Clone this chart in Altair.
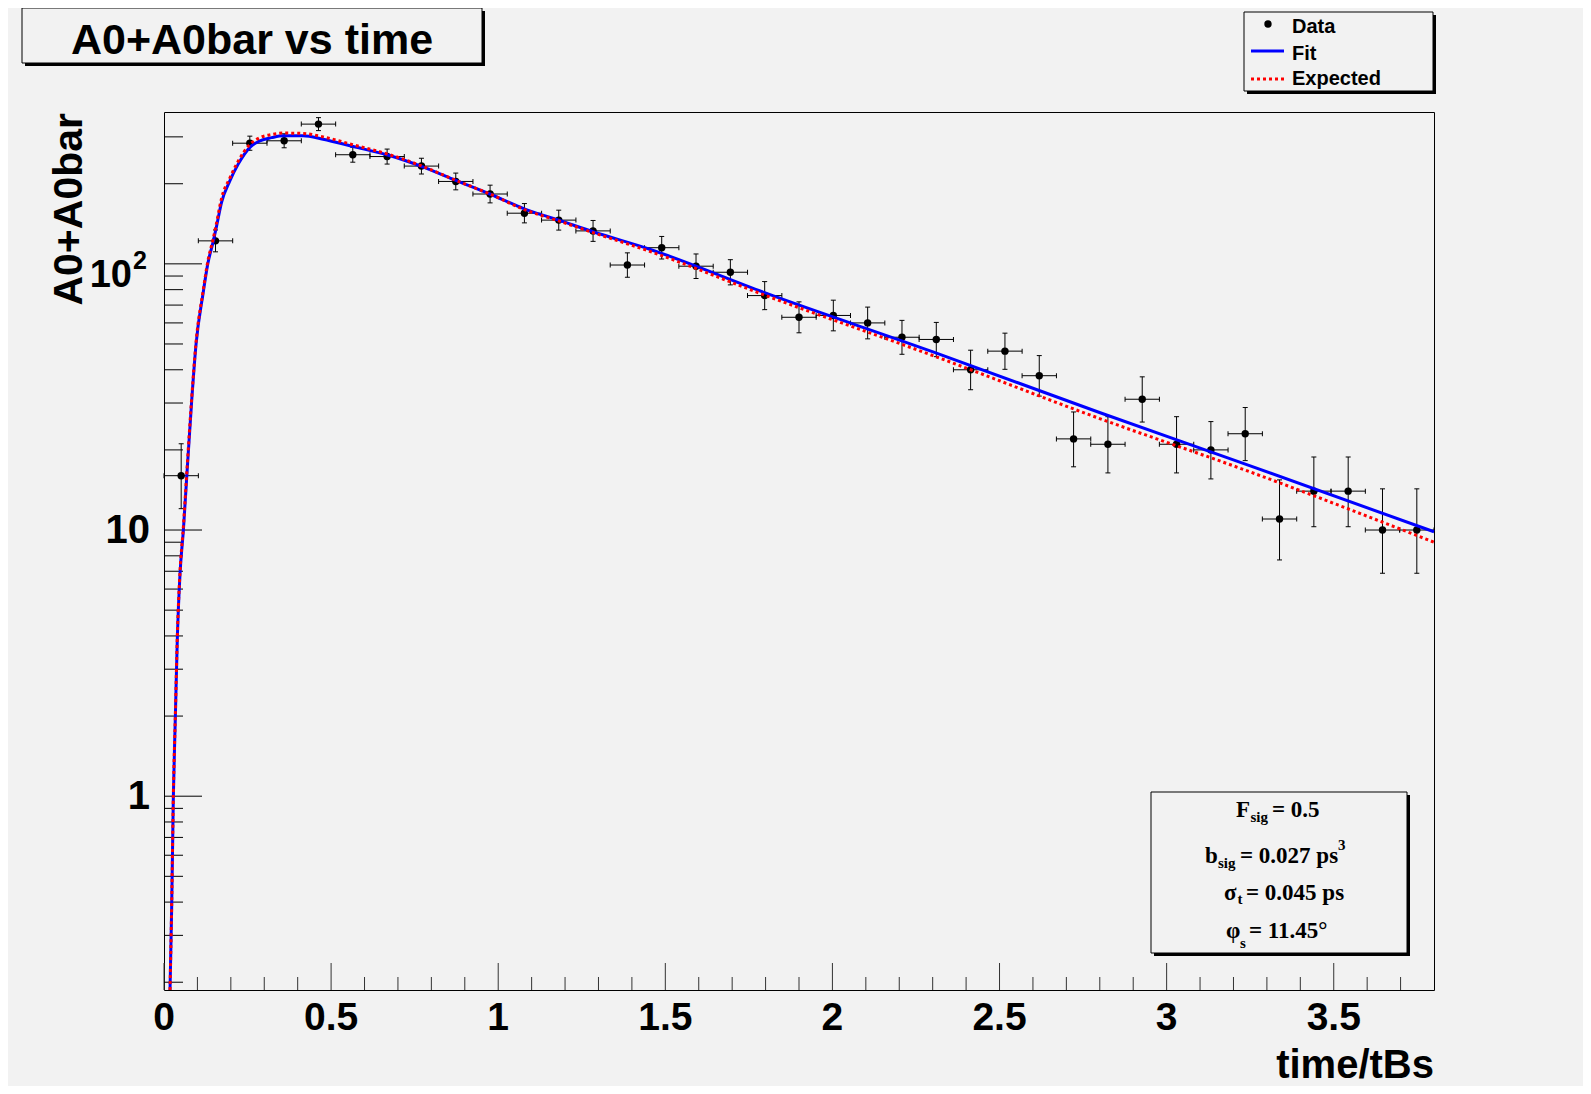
import altair as alt
import pandas as pd

# ---------------- data ----------------
bin_centers = [0.0514, 0.1541, 0.2568, 0.3595, 0.4622, 0.5649, 0.6676, 0.7703,
               0.8730, 0.9757, 1.0784, 1.1811, 1.2838, 1.3865, 1.4892, 1.5919,
               1.6946, 1.7973, 1.9000, 2.0027, 2.1054, 2.2081, 2.3108, 2.4135,
               2.5162, 2.6189, 2.7216, 2.8243, 2.9270, 3.0297, 3.1324, 3.2351,
               3.3378, 3.4405, 3.5432, 3.6459, 3.7486]
counts = [16, 122, 284, 290, 335, 257, 253, 233, 204, 183, 155, 146, 133, 99,
          115, 98, 93, 76, 63, 64, 60, 53, 52, 40, 47, 38, 22, 21, 31, 21, 20,
          23, 11, 14, 14, 10, 10]
err_low = [3.97, 11.03, 16.84, 17.02, 18.30, 16.02, 15.90, 15.26, 14.28, 13.52,
           12.44, 12.07, 11.52, 9.94, 10.71, 9.89, 9.63, 8.70, 7.92, 7.98, 7.73,
           7.26, 7.19, 6.34, 6.84, 6.14, 4.72, 4.61, 5.55, 4.61, 4.44, 4.77,
           3.28, 3.71, 3.71, 3.12, 3.12]
err_high = [5.09, 12.08, 17.88, 18.05, 19.32, 17.05, 16.93, 16.29, 15.31, 14.55,
            13.48, 13.11, 12.56, 10.99, 11.76, 10.94, 10.68, 9.76, 8.98, 9.04,
            8.79, 8.33, 8.26, 7.38, 7.91, 7.22, 5.77, 5.66, 6.63, 5.66, 5.55,
            5.87, 4.43, 4.81, 4.81, 4.28, 4.28]
half_bin = 0.0514

curve_t = [0.018, 0.023, 0.028, 0.034, 0.040, 0.048, 0.058, 0.068, 0.083, 0.096,
           0.117, 0.131, 0.147, 0.157, 0.172, 0.197, 0.222, 0.257, 0.287, 0.322,
           0.357, 0.416, 0.476, 0.566, 0.667, 0.772, 0.873, 0.975, 1.078, 1.181,
           1.284, 1.453, 1.801, 2.299, 2.797, 3.246, 3.8]
fit_vals = [0.187, 0.384, 1.0, 1.99, 3.97, 6.87, 10.0, 15.8, 30.8, 50.0, 77.6,
            100.0, 121.0, 138.0, 170.0, 205.0, 237.0, 274.0, 290.0, 298.0, 303.0,
            303.0, 294.0, 276.0, 257.0, 232.0, 206.0, 183.0, 161.0, 146.0, 132.0,
            113.5, 77.6, 46.8, 27.7, 17.5, 9.85]
exp_vals = [0.187, 0.39, 1.02, 2.02, 4.05, 7.0, 10.3, 16.3, 31.5, 51.0, 79.0,
            102.0, 124.0, 142.0, 176.0, 210.0, 243.0, 281.0, 298.0, 306.0, 310.0,
            309.0, 300.0, 280.0, 259.0, 233.0, 206.0, 183.0, 160.0, 145.0, 131.0,
            111.5, 76.0, 45.3, 26.3, 16.6, 9.0]

x_major = [0, 0.5, 1, 1.5, 2, 2.5, 3, 3.5]
x_labels = ["0", "0.5", "1", "1.5", "2", "2.5", "3", "3.5"]
x_minor = [0.1, 0.2, 0.3, 0.4, 0.6, 0.7, 0.8, 0.9, 1.1, 1.2, 1.3, 1.4, 1.6, 1.7,
           1.8, 1.9, 2.1, 2.2, 2.3, 2.4, 2.6, 2.7, 2.8, 2.9, 3.1, 3.2, 3.3, 3.4,
           3.6, 3.7]
y_major = [1, 10, 100]
y_plain_ticks = [1, 10]
y_plain_labels = ["1", "10"]
y_minor = [0.2, 0.3, 0.4, 0.5, 0.6, 0.7, 0.8, 0.9, 2, 3, 4, 5, 6, 7, 8, 9,
           20, 30, 40, 50, 60, 70, 80, 90, 200, 300]

# ---------------- layout ----------------
W, H = 1270, 878
BG = "#f2f2f2"
SANS = "Liberation Sans"
SERIF = "Liberation Serif"

xs = alt.Scale(domain=[0, 3.8], nice=False, zero=False)
ys = alt.Scale(type="log", domain=[0.187, 372], nice=False)

df = pd.DataFrame({"t": bin_centers, "n": counts, "el": err_low, "eh": err_high})
df["lo"] = df["n"] - df["el"]
df["hi"] = df["n"] + df["eh"]
df["tl"] = df["t"] - half_bin
df["th"] = df["t"] + half_bin

one = pd.DataFrame({"k": [0]})

X = lambda f: alt.X(f, scale=xs, axis=None)
Y = lambda f: alt.Y(f, scale=ys, axis=None)

# error bars
vbar = alt.Chart(df).mark_rule(color="black", strokeWidth=1).encode(
    x=X("t:Q"), y=Y("lo:Q"), y2="hi:Q")
hbar = alt.Chart(df).mark_rule(color="black", strokeWidth=1).encode(
    x=X("tl:Q"), x2="th:Q", y=Y("n:Q"))

def cap(xf, yf, orient):
    return alt.Chart(df).mark_tick(color="black", size=5, thickness=1,
                                   orient=orient, opacity=1).encode(
        x=X(xf), y=Y(yf))

pts = alt.Chart(df).mark_circle(size=55, color="black", opacity=1).encode(
    x=X("t:Q"), y=Y("n:Q"))

fit_df = pd.DataFrame({"t": curve_t, "v": fit_vals})
exp_df = pd.DataFrame({"t": curve_t, "v": exp_vals})
fit_line = alt.Chart(fit_df).mark_line(color="#0000ff", strokeWidth=3,
                                       interpolate="monotone").encode(
    x=X("t:Q"), y=Y("v:Q"))
exp_line = alt.Chart(exp_df).mark_line(color="#ff0000", strokeWidth=3,
                                       strokeDash=[3, 3],
                                       interpolate="monotone").encode(
    x=X("t:Q"), y=Y("v:Q"))

# inward ticks
def yticks(vals, length):
    return alt.Chart(pd.DataFrame({"v": vals})).mark_rule(
        color="black", strokeWidth=1).encode(
        y=Y("v:Q"), x=alt.value(0), x2=alt.value(length))

def xticks(vals, length):
    return alt.Chart(pd.DataFrame({"v": vals})).mark_rule(
        color="#333333", strokeWidth=1).encode(
        x=X("v:Q"), y=alt.value(H), y2=alt.value(H - length))

# helpers for annotations
def box(x1, y1, x2, y2, shadow=3):
    sh = alt.Chart(one).mark_rect(color="black").encode(
        x=alt.value(x1 + shadow), x2=alt.value(x2 + shadow),
        y=alt.value(y1 + shadow), y2=alt.value(y2 + shadow))
    bx = alt.Chart(one).mark_rect(fill=BG, stroke="black", strokeWidth=1).encode(
        x=alt.value(x1), x2=alt.value(x2), y=alt.value(y1), y2=alt.value(y2))
    return [sh, bx]

def txt(s, x, y, size, font=SANS, align="left", weight="bold", angle=0):
    return alt.Chart(one).mark_text(font=font, fontSize=size, fontWeight=weight,
                                    align=align, baseline="alphabetic",
                                    angle=angle, color="black").encode(
        x=alt.value(x), y=alt.value(y), text=alt.value(s))

layers = [xticks(x_minor, 13), xticks(x_major, 27),
          yticks(y_minor, 19), yticks(y_major, 38),
          vbar, hbar,
          cap("t:Q", "lo:Q", "horizontal"), cap("t:Q", "hi:Q", "horizontal"),
          cap("tl:Q", "n:Q", "vertical"), cap("th:Q", "n:Q", "vertical"),
          pts, fit_line, exp_line]

# x tick labels
layers.append(alt.Chart(pd.DataFrame({"v": x_major, "lab": x_labels})).mark_text(
    font=SANS, fontSize=39, fontWeight="bold", align="center",
    baseline="alphabetic", color="black").encode(
    x=X("v:Q"), y=alt.value(H + 40), text="lab:N"))
# y tick labels
layers.append(alt.Chart(pd.DataFrame({"v": y_plain_ticks, "lab": y_plain_labels})).mark_text(
    font=SANS, fontSize=40, fontWeight="bold", align="right",
    baseline="alphabetic", dy=13, color="black").encode(
    y=Y("v:Q"), x=alt.value(-14), text="lab:N"))
# 10^2 label
layers.append(alt.Chart(one).mark_text(font=SANS, fontSize=38, fontWeight="bold",
                                       align="right", baseline="alphabetic",
                                       dy=23, color="black").encode(
    x=alt.value(-32), y=alt.datum(100, scale=ys), text=alt.value("10")))
layers.append(alt.Chart(one).mark_text(font=SANS, fontSize=25, fontWeight="bold",
                                       align="left", baseline="alphabetic",
                                       dy=5, color="black").encode(
    x=alt.value(-31), y=alt.datum(100, scale=ys), text=alt.value("2")))

# axis titles
layers.append(txt("time/tBs", W, H + 88, 40, align="right"))
layers.append(txt("A0+A0bar", -82, 1, 41, align="right", angle=270))

# title box
layers += box(-142, -104, 318, -49, shadow=3)
layers.append(txt("A0+A0bar vs time", 88, -58, 43, align="center"))

# legend
layers += box(1080, -100, 1269, -21, shadow=3)
layers.append(alt.Chart(one).mark_circle(size=55, color="black", opacity=1).encode(
    x=alt.value(1104), y=alt.value(-88)))
layers.append(alt.Chart(one).mark_rule(color="#0000ff", strokeWidth=3).encode(
    x=alt.value(1087), x2=alt.value(1120), y=alt.value(-61)))
layers.append(alt.Chart(one).mark_rule(color="#ff0000", strokeWidth=3,
                                       strokeDash=[3, 3]).encode(
    x=alt.value(1087), x2=alt.value(1120), y=alt.value(-33)))
layers.append(txt("Data", 1128, -79, 20))
layers.append(txt("Fit", 1128, -52, 20))
layers.append(txt("Expected", 1128, -27, 20))

# stats box
layers += box(987, 680, 1243, 841, shadow=3)
layers += [
    txt("F", 1072, 705, 23, font=SERIF),
    txt("sig", 1086.5, 710, 15, font=SERIF),
    txt("= 0.5", 1108, 705, 23, font=SERIF),
    txt("b", 1041, 751, 23, font=SERIF),
    txt("sig", 1054, 756, 15, font=SERIF),
    txt("= 0.027 ps", 1076, 751, 23, font=SERIF),
    txt("3", 1174, 738, 15, font=SERIF),
    txt("\u03c3", 1060, 788, 23, font=SERIF),
    txt("t", 1073.5, 792, 15, font=SERIF),
    txt("= 0.045 ps", 1082, 788, 23, font=SERIF),
    txt("\u03c6", 1062, 826, 23, font=SERIF),
    txt("s", 1076, 836, 15, font=SERIF),
    txt("= 11.45\u00b0", 1085, 826, 23, font=SERIF),
]

chart = alt.layer(*layers).properties(
    width=W, height=H,
    autosize=alt.AutoSizeParams(type="none"),
    padding={"left": 156, "top": 104, "right": 149, "bottom": 96},
    background=BG,
).configure_view(stroke="black", strokeWidth=1, fill=BG)

chart.save("out.html", embed_options={"renderer": "svg", "actions": False})
